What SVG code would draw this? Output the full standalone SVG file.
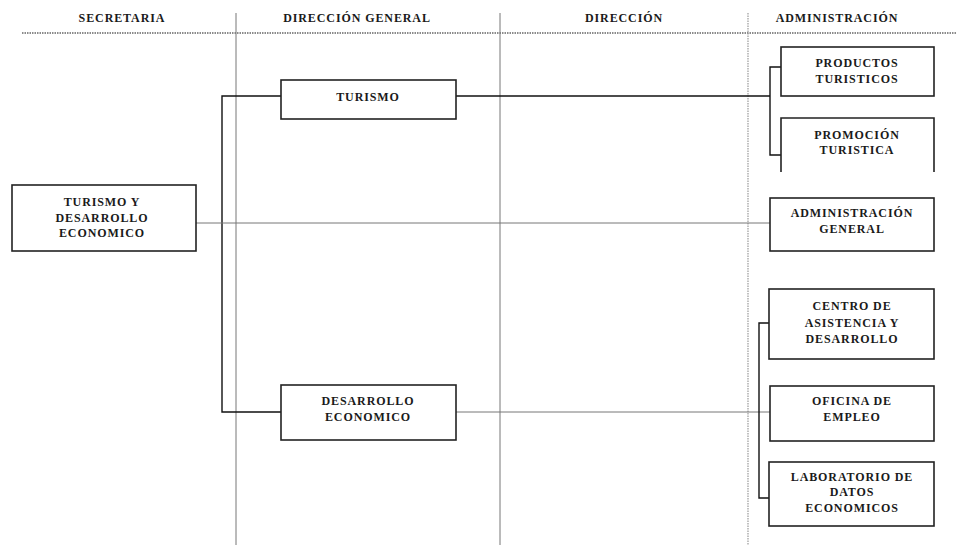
<svg xmlns="http://www.w3.org/2000/svg" width="956" height="545" viewBox="0 0 956 545">
<style>
.bg{fill:#fff}
.box{fill:#fff;stroke:#222;stroke-width:1.6}
.t{font-family:"Liberation Serif","Times New Roman",serif;font-weight:bold;font-size:12px;fill:#1a1a1a;text-anchor:middle;dominant-baseline:central;letter-spacing:0.9px}
.h{font-family:"Liberation Serif","Times New Roman",serif;font-weight:bold;font-size:12px;fill:#1a1a1a;text-anchor:middle;dominant-baseline:central;letter-spacing:0.9px}
.k{fill:none;stroke:#111;stroke-width:1.4}
.g{fill:none;stroke:#777;stroke-width:1}
.d{fill:none;stroke:#666;stroke-width:1.3;stroke-dasharray:1.5 1}
.dv{fill:none;stroke:#999;stroke-width:1.2;stroke-dasharray:1.5 1}
</style>
<rect class="bg" x="0" y="0" width="956" height="545"/>
<g id="grid">
<line class="d" x1="22" y1="33" x2="956" y2="33"/>
<line class="g" x1="236" y1="13" x2="236" y2="545"/>
<line class="g" x1="500" y1="13" x2="500" y2="545"/>
<line class="dv" x1="748" y1="13" x2="748" y2="545"/>
<text class="h" x="122" y="18">SECRETARIA</text>
<text class="h" x="357" y="18">DIRECCIÓN GENERAL</text>
<text class="h" x="624" y="18">DIRECCIÓN</text>
<text class="h" x="837" y="18">ADMINISTRACIÓN</text>
</g>
<g id="connectors">
<polyline class="k" points="281,96 222,96 222,412 281,412"/>
<line class="k" x1="456" y1="96" x2="770" y2="96"/>
<polyline class="k" points="781,67 770,67 770,155 781,155"/>
<line class="g" x1="196" y1="223" x2="770" y2="223"/>
<line class="g" x1="456" y1="412" x2="770" y2="412"/>
<polyline class="k" points="769,323 759,323 759,498 769,498"/>
</g>
<g id="n-secretaria">
<rect class="box" x="12" y="185" width="184" height="66"/>
<text class="t" x="102" y="202">TURISMO Y</text>
<text class="t" x="102" y="218">DESARROLLO</text>
<text class="t" x="102" y="233">ECONOMICO</text>
</g>
<g id="n-turismo">
<rect class="box" x="281" y="80" width="175" height="39"/>
<text class="t" x="368" y="97">TURISMO</text>
</g>
<g id="n-desarrollo">
<rect class="box" x="281" y="385" width="175" height="55"/>
<text class="t" x="368" y="401">DESARROLLO</text>
<text class="t" x="368" y="417">ECONOMICO</text>
</g>
<g id="n-productos">
<rect class="box" x="781" y="47" width="153" height="49"/>
<text class="t" x="857" y="63">PRODUCTOS</text>
<text class="t" x="857" y="79">TURISTICOS</text>
</g>
<g id="n-promocion">
<path class="box" d="M781,172 V118 H934 V172"/>
<text class="t" x="857" y="135">PROMOCIÓN</text>
<text class="t" x="857" y="150">TURISTICA</text>
</g>
<g id="n-admin">
<rect class="box" x="770" y="198" width="164" height="53"/>
<text class="t" x="852" y="213">ADMINISTRACIÓN</text>
<text class="t" x="852" y="229">GENERAL</text>
</g>
<g id="n-centro">
<rect class="box" x="769" y="289" width="165" height="70"/>
<text class="t" x="852" y="306">CENTRO DE</text>
<text class="t" x="852" y="323">ASISTENCIA Y</text>
<text class="t" x="852" y="339">DESARROLLO</text>
</g>
<g id="n-oficina">
<rect class="box" x="770" y="386" width="164" height="55"/>
<text class="t" x="852" y="401">OFICINA DE</text>
<text class="t" x="852" y="417">EMPLEO</text>
</g>
<g id="n-laboratorio">
<rect class="box" x="769" y="462" width="165" height="64"/>
<text class="t" x="852" y="477">LABORATORIO DE</text>
<text class="t" x="852" y="492">DATOS</text>
<text class="t" x="852" y="508">ECONOMICOS</text>
</g>
</svg>
